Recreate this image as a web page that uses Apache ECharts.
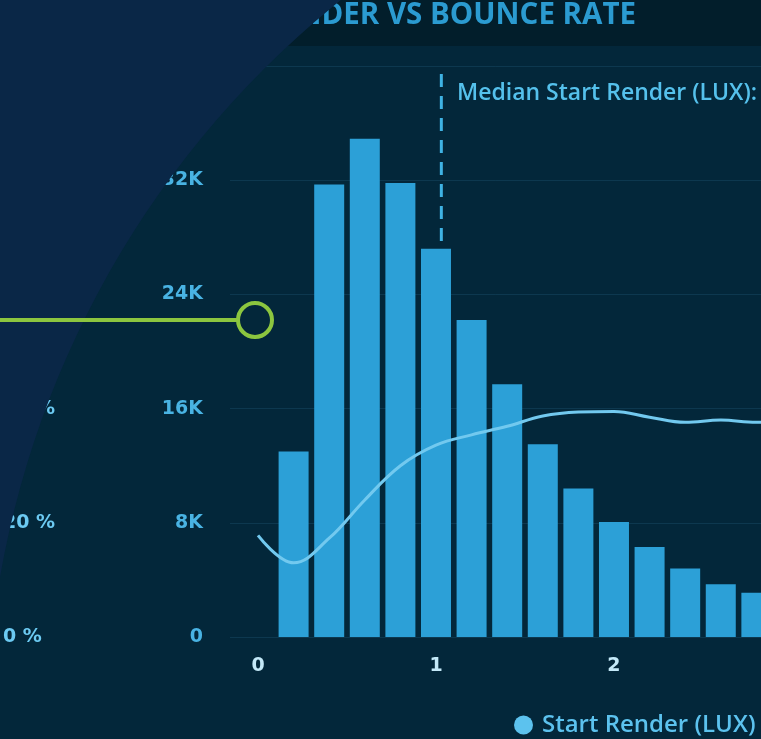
<!DOCTYPE html>
<html>
<head>
<meta charset="utf-8">
<script src="https://cdn.jsdelivr.net/npm/echarts@6/dist/echarts.min.js"></script>
<style>html,body{margin:0;padding:0;background:#03263a;}#c{width:761px;height:739px;}</style>
</head>
<body>
<div id="c"></div>
<script>
// Data
var binCenters = [0.2, 0.4, 0.6, 0.8, 1.0, 1.2, 1.4, 1.6, 1.8, 2.0, 2.2, 2.4, 2.6, 2.8];
var startRenderCounts = [13000, 31700, 34900, 31800, 27200, 22200, 17700, 13500, 10400, 8050, 6300, 4800, 3700, 3100];
var bounceX = [0, 0.2, 0.4, 0.6, 0.8, 1.0, 1.2, 1.4, 1.6, 1.8, 2.0, 2.2, 2.4, 2.6, 2.8, 3.0];
var bounceRate = [17.8, 13.0, 17.3, 24.0, 30.0, 33.6, 35.4, 36.9, 38.7, 39.4, 39.5, 38.5, 37.6, 38.0, 37.6, 37.6];
var medianStartRender = 1.03;
var countTicks = [0, 8000, 16000, 24000, 32000, 40000];
var countLabels = ['0', '8K', '16K', '24K', '32K', '40K'];

var FONT = '"Open Sans", Lato, sans-serif';
var AXFONT = '"DejaVu Sans", sans-serif';
var chart = echarts.init(document.getElementById('c'));

var barData = binCenters.map(function (x, i) { return [x, startRenderCounts[i]]; });
var lineData = bounceX.map(function (x, i) { return [x, bounceRate[i]]; });

chart.setOption({
  backgroundColor: '#03273a',
  animation: false,
  title: {
    text: 'START RENDER VS BOUNCE RATE',
    right: 120, top: -4,
    textStyle: { color: '#2b9bd1', fontSize: 29.5, fontWeight: 'bold', fontFamily: FONT }
  },
  legend: {
    left: 509, top: 708,
    itemWidth: 19, itemHeight: 19,
    data: [{ name: 'Start Render (LUX)', icon: 'circle', itemStyle: { color: '#5cc2ee' } }],
    textStyle: { color: '#5cc2ee', fontSize: 24, fontWeight: 600, fontFamily: FONT, padding: [0, 0, 0, 4] }
  },
  grid: [
    { left: 230, right: 0, top: 66, bottom: 102 },
    { left: 258, right: 0, top: 66, bottom: 102 }
  ],
  xAxis: [
    { gridIndex: 0, type: 'value', min: 0, max: 1, show: false },
    {
      gridIndex: 1, type: 'value', min: 0, max: 2.826, interval: 1,
      axisLine: { show: false }, axisTick: { show: false }, splitLine: { show: false },
      axisLabel: { color: '#c4e9f8', fontSize: 19, fontWeight: 'bold', fontFamily: AXFONT, margin: 20, showMaxLabel: false }
    }
  ],
  yAxis: [
    {
      gridIndex: 0, type: 'value', min: 0, max: 40000, interval: 8000,
      axisLine: { show: false }, axisTick: { show: false },
      splitLine: { lineStyle: { color: 'rgba(70,150,190,0.16)', width: 1 } },
      axisLabel: {
        margin: 27, color: '#49b3e3', fontSize: 19, fontWeight: 'bold', fontFamily: AXFONT,
        formatter: function (v) { var i = countTicks.indexOf(v); return i >= 0 ? countLabels[i] : ''; }
      }
    },
    {
      gridIndex: 0, type: 'value', min: 0, max: 100, interval: 20, position: 'left', offset: 227,
      axisLine: { show: false }, axisTick: { show: false }, splitLine: { show: false },
      axisLabel: { margin: 0, align: 'left', color: '#6ccaf2', fontSize: 19, fontWeight: 'bold', fontFamily: AXFONT, formatter: '{value} %' }
    },
    { gridIndex: 1, type: 'value', min: 0, max: 40000, show: false },
    { gridIndex: 1, type: 'value', min: 0, max: 100, show: false }
  ],
  series: [
    {
      name: 'Median', type: 'line', xAxisIndex: 1, yAxisIndex: 2, z: 1,
      data: [[medianStartRender, 0], [medianStartRender, 40000]],
      showSymbol: false, silent: true,
      lineStyle: { color: '#3fb3e4', width: 3, type: [13, 9] }
    },
    {
      name: 'Start Render (LUX)', type: 'bar', xAxisIndex: 1, yAxisIndex: 2, z: 3,
      data: barData, barWidth: 30,
      itemStyle: { color: '#2ca0d7' }
    },
    {
      name: 'Bounce Rate', type: 'line', xAxisIndex: 1, yAxisIndex: 3, z: 4,
      data: lineData, smooth: 0.4, showSymbol: false,
      lineStyle: { color: '#72c9ef', width: 3 }
    }
  ],
  graphic: {
    elements: [
      { type: 'rect', z: -10, shape: { x: 0, y: 0, width: 761, height: 46 }, style: { fill: '#021e2b' } },
      { type: 'text', z: 5, left: 457, top: 82,
        style: { text: 'Median Start Render (LUX):', fill: '#55c1ec', fontSize: 23, fontWeight: 600, fontFamily: FONT } },
      { type: 'ring', z: 100, shape: { cx: 935, cy: 740, r0: 949, r: 2600 }, style: { fill: '#0a2747' } },
      { type: 'line', z: 110, shape: { x1: 0, y1: 320, x2: 237, y2: 320 }, style: { stroke: '#8cc63f', lineWidth: 4 } },
      { type: 'circle', z: 110, shape: { cx: 255, cy: 320, r: 17 }, style: { fill: 'none', stroke: '#8cc63f', lineWidth: 4 } }
    ]
  }
});
</script>
</body>
</html>
